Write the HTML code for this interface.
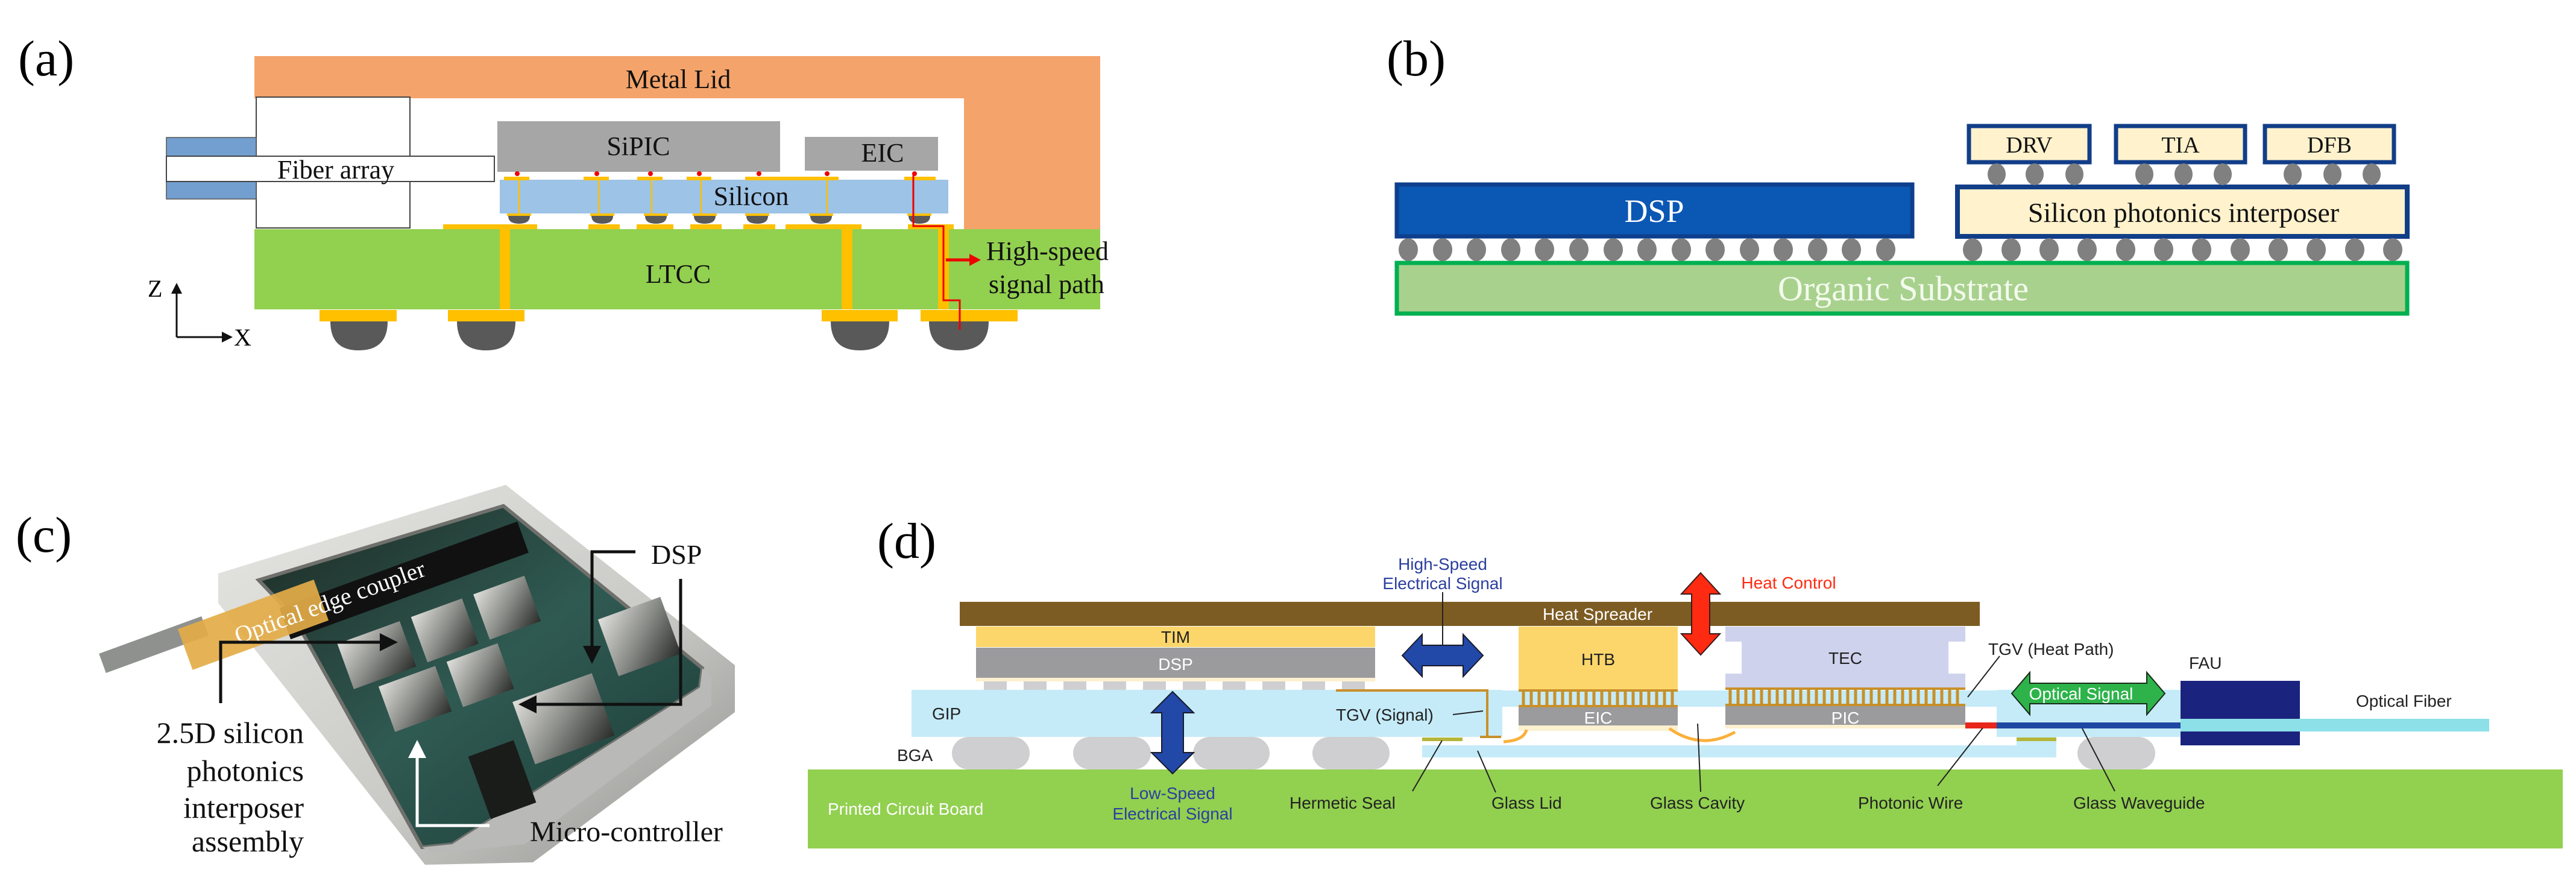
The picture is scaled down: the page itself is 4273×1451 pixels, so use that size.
<!DOCTYPE html>
<html><head><meta charset="utf-8"><style>
html,body{margin:0;padding:0;background:#fff;}
svg{display:block;}
.serif{font-family:"Liberation Serif",serif;}
.sans{font-family:"Liberation Sans",sans-serif;}
</style></head><body>
<svg width="4273" height="1451" viewBox="0 0 4273 1451" xmlns="http://www.w3.org/2000/svg">
<defs>
<marker id="ah" markerWidth="6" markerHeight="6" refX="5" refY="3" orient="auto" markerUnits="strokeWidth"><path d="M0,0 L6,3 L0,6 Z" fill="#111"/></marker>
<marker id="ahw" markerWidth="6" markerHeight="6" refX="5" refY="3" orient="auto" markerUnits="strokeWidth"><path d="M0,0 L6,3 L0,6 Z" fill="#fff"/></marker>
<linearGradient id="frame" x1="0" y1="0" x2="1" y2="1"><stop offset="0" stop-color="#e6e6e2"/><stop offset="0.6" stop-color="#c9c9c5"/><stop offset="1" stop-color="#8e8e8c"/></linearGradient>
<linearGradient id="board" x1="0" y1="0" x2="1" y2="1"><stop offset="0" stop-color="#1d2a24"/><stop offset="0.5" stop-color="#2f5a52"/><stop offset="1" stop-color="#1b3a36"/></linearGradient>
<linearGradient id="chip" x1="0" y1="0" x2="1" y2="1"><stop offset="0" stop-color="#e0e0dc"/><stop offset="0.5" stop-color="#8a8c88"/><stop offset="1" stop-color="#2a2c2a"/></linearGradient>
</defs>

<!-- ============ (a) ============ -->
<text x="30" y="125" class="serif" font-size="84">(a)</text>
<path d="M422,93 H1825 V380 H1599 V163 H422 Z" fill="#f4a46a"/>
<rect x="422" y="380" width="1403" height="133" fill="#92d050"/>
<rect x="425" y="161" width="255" height="217" fill="#fff" stroke="#444" stroke-width="2"/>
<rect x="276" y="228" width="149" height="31" fill="#729fcf" stroke="#555" stroke-width="1.5"/>
<rect x="276" y="300" width="149" height="30" fill="#729fcf" stroke="#555" stroke-width="1.5"/>
<rect x="276" y="259" width="544" height="42" fill="#fff" stroke="#444" stroke-width="2"/>
<rect x="825" y="201" width="469" height="84" fill="#a6a6a6"/>
<rect x="1335" y="227" width="221" height="56" fill="#a6a6a6"/>
<rect x="829" y="298" width="744" height="56" fill="#9dc3e6"/>
<g stroke="#ffc000" stroke-width="2.5"><line x1="861" y1="298" x2="861" y2="354"/><line x1="993" y1="298" x2="993" y2="354"/><line x1="1081" y1="298" x2="1081" y2="354"/><line x1="1163" y1="298" x2="1163" y2="354"/><line x1="1372" y1="298" x2="1372" y2="354"/></g>
<g fill="#ffc000"><rect x="836" y="293" width="42" height="6"/><rect x="968" y="293" width="42" height="6"/><rect x="1057" y="293" width="42" height="6"/><rect x="1139" y="293" width="41" height="6"/><rect x="1236" y="293" width="155" height="6"/><rect x="1500" y="293" width="52" height="6"/>
<rect x="841" y="354" width="40" height="4"/><rect x="979" y="354" width="40" height="4"/><rect x="1068" y="354" width="40" height="4"/><rect x="1149" y="354" width="40" height="4"/><rect x="1236" y="354" width="40" height="4"/><rect x="1342" y="354" width="40" height="4"/><rect x="1505" y="354" width="40" height="4"/>
<rect x="735" y="372" width="156" height="8"/><rect x="976" y="372" width="52" height="8"/><rect x="1056" y="372" width="61" height="8"/><rect x="1145" y="372" width="52" height="8"/><rect x="1233" y="372" width="53" height="8"/><rect x="1303" y="372" width="126" height="8"/><rect x="1506" y="372" width="76" height="8"/>
<rect x="829" y="380" width="17" height="133"/><rect x="1396" y="380" width="18" height="133"/><rect x="1556" y="380" width="18" height="133"/>
<rect x="530" y="514" width="128" height="19"/><rect x="743" y="514" width="127" height="19"/><rect x="1363" y="514" width="126" height="19"/><rect x="1527" y="514" width="161" height="19"/></g>
<g fill="#e00"><circle cx="858" cy="288" r="4"/><circle cx="990" cy="288" r="4"/><circle cx="1079" cy="288" r="4"/><circle cx="1160" cy="288" r="4"/><circle cx="1259" cy="288" r="4"/><circle cx="1372" cy="288" r="4"/><circle cx="1517" cy="288" r="4"/></g>
<g fill="#595959">
<path d="M843,358 H879 Q879,371 861,371 Q843,371 843,358Z"/><path d="M981,358 H1017 Q1017,371 999,371 Q981,371 981,358Z"/><path d="M1070,358 H1106 Q1106,371 1088,371 Q1070,371 1070,358Z"/><path d="M1151,358 H1187 Q1187,371 1169,371 Q1151,371 1151,358Z"/><path d="M1238,358 H1274 Q1274,371 1256,371 Q1238,371 1238,358Z"/><path d="M1344,358 H1380 Q1380,371 1362,371 Q1344,371 1344,358Z"/><path d="M1507,358 H1543 Q1543,371 1525,371 Q1507,371 1507,358Z"/>
<path d="M548,533 H643 Q643,581 595,581 Q548,581 548,533Z"/><path d="M758,533 H855 Q855,581 806,581 Q758,581 758,533Z"/><path d="M1378,533 H1475 Q1475,581 1426,581 Q1378,581 1378,533Z"/><path d="M1541,533 H1640 Q1640,581 1590,581 Q1541,581 1541,533Z"/></g>
<polyline points="1515,288 1515,375 1565,375 1565,498 1592,498 1592,547" fill="none" stroke="#e00" stroke-width="3"/>
<line x1="1569" y1="431" x2="1612" y2="431" stroke="#e00" stroke-width="5"/><path d="M1608,421 L1627,431 L1608,441Z" fill="#e00"/>
<g class="serif" font-size="44" fill="#111" text-anchor="middle">
<text x="1125" y="146">Metal Lid</text><text x="1059" y="257">SiPIC</text><text x="1464" y="268">EIC</text><text x="557" y="296">Fiber array</text><text x="1246" y="340">Silicon</text><text x="1125" y="469">LTCC</text></g>
<g class="serif" font-size="44" fill="#111"><text x="1636" y="431">High-speed</text><text x="1640" y="486">signal path</text></g>
<line x1="293" y1="559" x2="293" y2="472" stroke="#111" stroke-width="3" marker-end="url(#ah)"/>
<line x1="293" y1="559" x2="383" y2="559" stroke="#111" stroke-width="3" marker-end="url(#ah)"/>
<text x="245" y="492" class="serif" font-size="40">Z</text><text x="388" y="573" class="serif" font-size="40">X</text>

<!-- ============ (b) ============ -->
<text x="2300" y="125" class="serif" font-size="84">(b)</text>
<rect x="2317" y="436" width="1676" height="84" fill="#a9d18e" stroke="#00b050" stroke-width="7"/>
<rect x="2317" y="306" width="855" height="86" fill="#0b57b4" stroke="#0d3f8c" stroke-width="7"/>
<rect x="3247" y="310" width="746" height="82" fill="#fff2cc" stroke="#123e88" stroke-width="8"/>
<rect x="3266" y="209" width="200" height="60" fill="#fff2cc" stroke="#123e88" stroke-width="7"/>
<rect x="3510" y="209" width="214" height="60" fill="#fff2cc" stroke="#123e88" stroke-width="7"/>
<rect x="3757" y="209" width="214" height="60" fill="#fff2cc" stroke="#123e88" stroke-width="7"/>
<g fill="#808080">
<ellipse cx="3312" cy="289" rx="15" ry="18"/><ellipse cx="3375" cy="289" rx="15" ry="18"/><ellipse cx="3441" cy="289" rx="15" ry="18"/>
<ellipse cx="3557" cy="289" rx="15" ry="18"/><ellipse cx="3622" cy="289" rx="15" ry="18"/><ellipse cx="3687" cy="289" rx="15" ry="18"/>
<ellipse cx="3803" cy="289" rx="15" ry="18"/><ellipse cx="3869" cy="289" rx="15" ry="18"/><ellipse cx="3934" cy="289" rx="15" ry="18"/>
</g>
<g fill="#808080">
<ellipse cx="2336" cy="414" rx="16" ry="19"/><ellipse cx="2393" cy="414" rx="16" ry="19"/><ellipse cx="2449" cy="414" rx="16" ry="19"/><ellipse cx="2506" cy="414" rx="16" ry="19"/><ellipse cx="2562" cy="414" rx="16" ry="19"/><ellipse cx="2619" cy="414" rx="16" ry="19"/><ellipse cx="2676" cy="414" rx="16" ry="19"/><ellipse cx="2732" cy="414" rx="16" ry="19"/><ellipse cx="2789" cy="414" rx="16" ry="19"/><ellipse cx="2845" cy="414" rx="16" ry="19"/><ellipse cx="2902" cy="414" rx="16" ry="19"/><ellipse cx="2958" cy="414" rx="16" ry="19"/><ellipse cx="3015" cy="414" rx="16" ry="19"/><ellipse cx="3071" cy="414" rx="16" ry="19"/><ellipse cx="3128" cy="414" rx="16" ry="19"/>
<ellipse cx="3272" cy="414" rx="16" ry="19"/><ellipse cx="3336" cy="414" rx="16" ry="19"/><ellipse cx="3399" cy="414" rx="16" ry="19"/><ellipse cx="3462" cy="414" rx="16" ry="19"/><ellipse cx="3526" cy="414" rx="16" ry="19"/><ellipse cx="3589" cy="414" rx="16" ry="19"/><ellipse cx="3652" cy="414" rx="16" ry="19"/><ellipse cx="3716" cy="414" rx="16" ry="19"/><ellipse cx="3779" cy="414" rx="16" ry="19"/><ellipse cx="3842" cy="414" rx="16" ry="19"/><ellipse cx="3906" cy="414" rx="16" ry="19"/><ellipse cx="3969" cy="414" rx="16" ry="19"/></g>
<g class="serif" text-anchor="middle">
<text x="2744" y="368" font-size="54" fill="#fff">DSP</text>
<text x="3622" y="368" font-size="46" fill="#111">Silicon photonics interposer</text>
<text x="3157" y="498" font-size="58" fill="#f4fbee">Organic  Substrate</text>
<text x="3366" y="253" font-size="38" fill="#111">DRV</text><text x="3617" y="253" font-size="38" fill="#111">TIA</text><text x="3864" y="253" font-size="38" fill="#111">DFB</text></g>

<!-- ============ (c) ============ -->
<text x="26" y="915" class="serif" font-size="84">(c)</text>
<line x1="170" y1="1100" x2="340" y2="1038" stroke="#8e918e" stroke-width="34"/>
<polygon points="362,951 839,804 1219,1103 1219,1181 884,1430 705,1434 362,1000" fill="url(#frame)"/>
<polygon points="429,962 835,839 1165,1108 1161,1140 750,1400 700,1405 487,1023" fill="url(#board)"/>
<polygon points="429,962 835,839 1165,1108 1161,1140 750,1400 700,1405 487,1023" fill="none" stroke="#6f706c" stroke-width="6"/>
<polygon points="700,1405 750,1400 1161,1140 1165,1108 1180,1120 1180,1170 870,1400 720,1415" fill="#b9bab7"/>
<g transform="rotate(-20 780 1030)">
<rect x="560" y="990" width="110" height="80" fill="url(#chip)"/><rect x="690" y="990" width="90" height="80" fill="url(#chip)"/><rect x="800" y="990" width="90" height="80" fill="url(#chip)"/>
<rect x="600" y="1080" width="100" height="80" fill="url(#chip)"/><rect x="720" y="1080" width="90" height="80" fill="url(#chip)"/>
<rect x="800" y="1180" width="140" height="110" fill="url(#chip)"/><rect x="980" y="1100" width="110" height="100" fill="url(#chip)"/>
<rect x="700" y="1240" width="80" height="110" fill="#1a1c1a"/>
</g>
<rect x="460" y="935" width="420" height="55" fill="#111" transform="rotate(-20 670 962)"/>
<rect x="300" y="1000" width="240" height="72" fill="#e3ad48" opacity="0.92" transform="rotate(-20 420 1036)"/>
<text x="395" y="1068" class="serif" font-size="40" fill="#fff" transform="rotate(-20 395 1068)">Optical edge coupler</text>
<g stroke="#111" stroke-width="5" fill="none">
<polyline points="1054,915 982,915 982,1096" marker-end="url(#ah)"/>
<polyline points="1129,960 1129,1168 865,1168" marker-end="url(#ah)"/>
<polyline points="366,1166 366,1065 655,1065" marker-end="url(#ah)"/>
</g>
<polyline points="812,1369 692,1369 692,1232" fill="none" stroke="#fff" stroke-width="5" marker-end="url(#ahw)"/>
<g class="serif" font-size="50" fill="#111">
<text x="1080" y="935" font-size="46">DSP</text>
<text x="504" y="1232" text-anchor="end">2.5D silicon</text>
<text x="504" y="1295" text-anchor="end">photonics</text>
<text x="504" y="1356" text-anchor="end">interposer</text>
<text x="504" y="1412" text-anchor="end">assembly</text>
<text x="879" y="1395" font-size="48">Micro-controller</text></g>

<!-- ============ (d) ============ -->
<text x="1455" y="925" class="serif" font-size="84">(d)</text>
<rect x="1340" y="1276" width="2911" height="131" fill="#92d050"/>
<g fill="#cfcfd1">
<rect x="1579" y="1222" width="129" height="54" rx="28" ry="40"/><rect x="1780" y="1222" width="129" height="54" rx="28" ry="40"/><rect x="1979" y="1222" width="127" height="54" rx="28" ry="40"/><rect x="2177" y="1222" width="128" height="54" rx="28" ry="40"/><rect x="3446" y="1222" width="129" height="54" rx="28" ry="40"/></g>
<rect x="1592" y="998" width="1692" height="40" fill="#7d5c23"/>
<rect x="1619" y="1039" width="662" height="34" fill="#fdd66b"/>
<rect x="1619" y="1074" width="662" height="50" fill="#9b9b9e"/>
<rect x="1619" y="1124" width="662" height="6" fill="#fbf0d0"/>
<g fill="#cfcfd1"><rect x="1632" y="1130" width="38" height="14"/><rect x="1698" y="1130" width="38" height="14"/><rect x="1764" y="1130" width="38" height="14"/><rect x="1830" y="1130" width="38" height="14"/><rect x="1896" y="1130" width="38" height="14"/><rect x="1962" y="1130" width="38" height="14"/><rect x="2028" y="1130" width="38" height="14"/><rect x="2094" y="1130" width="38" height="14"/><rect x="2160" y="1130" width="38" height="14"/><rect x="2226" y="1130" width="38" height="14"/></g>
<g fill="#c5ebf8">
<rect x="1512" y="1144" width="980" height="78"/>
<rect x="2492" y="1145" width="790" height="27"/>
<rect x="3312" y="1144" width="305" height="78"/>
<rect x="3260" y="1145" width="52" height="27"/>
<rect x="2359" y="1236" width="1052" height="20"/>
<rect x="3345" y="1222" width="66" height="34"/>
</g>
<rect x="2359" y="1223" width="67" height="6" fill="#b5b53a"/><rect x="3345" y="1223" width="66" height="6" fill="#b5b53a"/>
<rect x="2519" y="1039" width="264" height="104" fill="#fdd66b"/>
<path d="M2862,1039 H3260 V1064 H3232 V1117 H3260 V1140 H2862 V1117 H2889 V1064 H2862 Z" fill="#cfd2ec"/>
<g fill="#c8902a">
<rect x="2519" y="1143" width="264" height="4"/><rect x="2519" y="1169" width="264" height="4"/>
<rect x="2862" y="1140" width="398" height="4"/><rect x="2862" y="1167" width="398" height="4"/>
</g>
<g stroke="#c8902a" stroke-width="5">
<path d="M2527,1147V1169M2540,1147V1169M2553,1147V1169M2566,1147V1169M2579,1147V1169M2592,1147V1169M2605,1147V1169M2618,1147V1169M2631,1147V1169M2644,1147V1169M2657,1147V1169M2670,1147V1169M2683,1147V1169M2696,1147V1169M2709,1147V1169M2722,1147V1169M2735,1147V1169M2748,1147V1169M2761,1147V1169M2774,1147V1169"/>
<path d="M2870,1144V1167M2883,1144V1167M2896,1144V1167M2909,1144V1167M2922,1144V1167M2935,1144V1167M2948,1144V1167M2961,1144V1167M2974,1144V1167M2987,1144V1167M3000,1144V1167M3013,1144V1167M3026,1144V1167M3039,1144V1167M3052,1144V1167M3065,1144V1167M3078,1144V1167M3091,1144V1167M3104,1144V1167M3117,1144V1167M3130,1144V1167M3143,1144V1167M3156,1144V1167M3169,1144V1167M3182,1144V1167M3195,1144V1167M3208,1144V1167M3221,1144V1167M3234,1144V1167M3247,1144V1167"/>
</g>
<rect x="2519" y="1173" width="264" height="30" fill="#9b9b9e"/><rect x="2519" y="1203" width="264" height="9" fill="#fbf0d0"/>
<rect x="2862" y="1171" width="398" height="31" fill="#9b9b9e"/><rect x="2862" y="1202" width="398" height="6" fill="#fbf0d0"/>
<rect x="3260" y="1198" width="52" height="10" fill="#e8261a"/>
<rect x="3312" y="1198" width="305" height="10" fill="#1f48a3"/>
<rect x="3617" y="1129" width="198" height="107" fill="#1a237e"/>
<rect x="3617" y="1192" width="512" height="21" fill="#8de0e8"/>
<polyline points="2216,1145 2467,1145 2467,1222" fill="none" stroke="#c8902a" stroke-width="4"/>
<line x1="2455" y1="1222" x2="2490" y2="1222" stroke="#c8902a" stroke-width="4"/>
<g fill="none" stroke="#fbb03b" stroke-width="5">
<path d="M2532,1210 Q2528,1228 2494,1230"/><path d="M2769,1208 Q2822,1245 2878,1214"/></g>
<polygon points="1945,1147 1980,1182 1963,1182 1963,1248 1980,1248 1945,1283 1910,1248 1927,1248 1927,1182 1910,1182" fill="#2248a8" stroke="#1a1a2a" stroke-width="2"/>
<polygon points="2326,1087 2359,1052 2359,1070 2427,1070 2427,1052 2460,1087 2427,1122 2427,1104 2359,1104 2359,1122" fill="#2248a8" stroke="#1a1a2a" stroke-width="2"/>
<polygon points="2821,950 2853,985 2836,985 2836,1051 2853,1051 2821,1086 2789,1051 2806,1051 2806,985 2789,985" fill="#ff2a12" stroke="#3a1a1a" stroke-width="2"/>
<polygon points="3337,1150 3367,1115 3367,1133 3561,1133 3561,1115 3591,1150 3561,1185 3561,1167 3367,1167 3367,1185" fill="#2db34a" stroke="#1a2a1a" stroke-width="2"/>
<g stroke="#222" stroke-width="2">
<line x1="2393" y1="982" x2="2393" y2="1070"/>
<line x1="2410" y1="1185" x2="2460" y2="1179"/>
<line x1="3317" y1="1088" x2="3264" y2="1156"/>
<line x1="2392" y1="1228" x2="2343" y2="1312"/>
<line x1="2451" y1="1245" x2="2481" y2="1314"/>
<line x1="2816" y1="1200" x2="2821" y2="1313"/>
<line x1="3289" y1="1207" x2="3214" y2="1303"/>
<line x1="3454" y1="1208" x2="3508" y2="1312"/>
</g>
<g class="sans" font-size="28" text-anchor="middle">
<text x="2393" y="945" fill="#2b3f9e">High-Speed</text><text x="2393" y="977" fill="#2b3f9e">Electrical Signal</text>
<text x="2967" y="976" fill="#ff2a12">Heat Control</text>
<text x="2650" y="1028" fill="#fff">Heat Spreader</text>
<text x="1950" y="1066" fill="#222">TIM</text><text x="1950" y="1111" fill="#fff">DSP</text>
<text x="2651" y="1103" fill="#222">HTB</text><text x="2651" y="1200" fill="#fff">EIC</text>
<text x="3061" y="1101" fill="#222">TEC</text><text x="3061" y="1200" fill="#fff">PIC</text>
<text x="3452" y="1160" fill="#fff">Optical Signal</text>
<text x="1945" y="1325" fill="#2b3f9e">Low-Speed</text><text x="1945" y="1359" fill="#2b3f9e">Electrical Signal</text>
</g>
<g class="sans" font-size="28" fill="#222">
<text x="1546" y="1193">GIP</text><text x="1488" y="1262">BGA</text>
<text x="2216" y="1195">TGV (Signal)</text>
<text x="3298" y="1086">TGV (Heat Path)</text>
<text x="3631" y="1109">FAU</text>
<text x="3908" y="1172">Optical Fiber</text>
<text x="1373" y="1351" fill="#fff">Printed Circuit Board</text>
<text x="2139" y="1341">Hermetic Seal</text>
<text x="2474" y="1341">Glass Lid</text>
<text x="2737" y="1341">Glass Cavity</text>
<text x="3082" y="1341">Photonic Wire</text>
<text x="3439" y="1341">Glass Waveguide</text>
</g>
</svg>
</body></html>
